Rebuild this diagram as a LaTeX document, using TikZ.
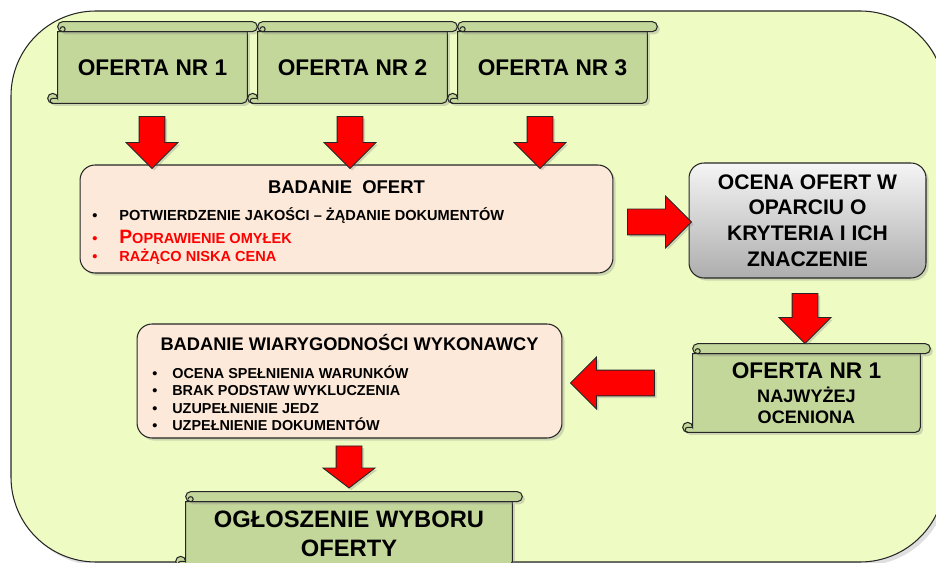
\documentclass[tikz,border=0pt]{standalone}
\usepackage{fontspec}
\setmainfont{Liberation Sans}
\usetikzlibrary{shapes.arrows, shadows, calc, positioning}

\definecolor{bgyellow}{RGB}{238,252,196}
\definecolor{scrollgreen}{RGB}{196,215,155}
\definecolor{boxpink}{RGB}{253,233,217}
\definecolor{darkline}{RGB}{38,38,38}

\newdimen\rollr \rollr=0.1cm
\newcommand{\itembullet}[1]{\makebox[#1][l]{\textbullet}}
\newcommand{\smallline}{\fontsize{10.3}{12.5}\selectfont}

\tikzset{%
  backdrop/.style = {draw=darkline, fill=bgyellow, rounded corners=1.7cm, line width=0.6pt,
                     drop shadow={shadow xshift=2pt, shadow yshift=-2pt, opacity=0.25}},
  scroll/.style = {inner sep=0pt, align=center, font=\bfseries\fontsize{12.9}{15}\selectfont},
  scrollpaper/.style = {draw=darkline, fill=scrollgreen, line width=0.6pt,
                        drop shadow={shadow xshift=1.5pt, shadow yshift=-1.5pt, opacity=0.3}},
  scrollcurl/.style = {draw=darkline, line width=0.6pt},
  infobox/.style = {draw=darkline, fill=boxpink, rounded corners=0.3cm, line width=0.6pt,
                    drop shadow={shadow xshift=1.5pt, shadow yshift=-1.5pt, opacity=0.3}},
  gradbox/.style = {draw=darkline, top color=black!4, bottom color=black!32, rounded corners=0.3cm,
                    line width=0.6pt, align=center, font=\bfseries\fontsize{12}{14.6}\selectfont,
                    drop shadow={shadow xshift=1.5pt, shadow yshift=-1.5pt, opacity=0.3}},
  redarrow/.style = {single arrow, draw=black!85, fill=red, line width=0.5pt, inner xsep=0pt,
                     inner ysep=0.25cm, single arrow head extend=0.26cm, single arrow tip angle=90,
                     drop shadow={shadow xshift=1.2pt, shadow yshift=-1.2pt, opacity=0.3}},
  boxtitle/.style = {inner sep=0pt, font=\bfseries\fontsize{10.5}{12}\selectfont},
  itemlist/.style = {inner sep=0pt, align=left, font=\bfseries\fontsize{8.3}{10}\selectfont}
}

% scroll outline drawn behind a node
\newcommand{\scrollframe}[1]{%
  \begin{pgfonlayer}{background}
    \draw[scrollpaper] let \p1 = (#1.north west), \p2 = (#1.south east) in
      (\x1,\y1) -- (\x1,\y2+\rollr) arc[start angle=0, end angle=270, radius=\rollr]
      -- (\x2-\rollr,\y2) arc[start angle=270, end angle=360, radius=\rollr]
      -- (\x2,\y1) -- cycle;
    \draw[scrollpaper] let \p1 = (#1.north west), \p2 = (#1.south east) in
      (\x1+\rollr,\y1) -- (\x2+\rollr,\y1) arc[start angle=-90, end angle=90, radius=\rollr]
      -- (\x1+\rollr,\y1+2*\rollr) arc[start angle=90, end angle=270, radius=\rollr] -- cycle;
    \draw[scrollcurl] let \p1 = (#1.north west), \p2 = (#1.south east) in
      (\x1+\rollr,\y1) arc[start angle=-90, end angle=180, radius=0.5*\rollr]
      (\x1,\y2+\rollr) -- (\x1-\rollr,\y2+\rollr) arc[start angle=90, end angle=270, radius=0.5*\rollr];
  \end{pgfonlayer}}

\begin{document}
\begin{tikzpicture}[x=0.02cm, y=-0.02cm]
    \pgfdeclarelayer{backdrop}
    \pgfdeclarelayer{background}
    \pgfsetlayers{backdrop,background,main}

    \useasboundingbox (0,0) rectangle (936,563);
    \begin{pgfonlayer}{backdrop}
      \draw[backdrop] (11,11) rectangle (945,562);
    \end{pgfonlayer}

    % offers
    \node (of1)  [scroll, minimum width=3.78cm, minimum height=1.42cm] at (152.5,67.5) {OFERTA NR 1};
    \node (of2)  [scroll, minimum width=3.78cm, minimum height=1.42cm] at (352.5,67.5) {OFERTA NR 2};
    \node (of3)  [scroll, minimum width=3.78cm, minimum height=1.42cm] at (552.5,67.5) {OFERTA NR 3};
    \scrollframe{of1}
    \scrollframe{of2}
    \scrollframe{of3}

    % examination of offers
    \node (badanie) [infobox, minimum width=10.66cm, minimum height=2.16cm] at (346.5,219) {};
    \node (badtitle) [boxtitle] at (346.5,187) {BADANIE~~OFERT};
    \node (badlist) [itemlist, anchor=west] at (92,236)
      {\itembullet{0.54cm}POTWIERDZENIE JAKOŚCI – ŻĄDANIE DOKUMENTÓW\\[3pt]
       \textcolor{red}{\itembullet{0.54cm}{\fontsize{11}{12}\selectfont P}OPRAWIENIE OMYŁEK}\\
       \textcolor{red}{\itembullet{0.54cm}RAŻĄCO NISKA CENA}};

    \node (ocena) [gradbox, minimum width=4.74cm, minimum height=2.3cm] at (807.5,220.5)
      {OCENA OFERT W\\OPARCIU O\\KRYTERIA I ICH\\ZNACZENIE};

    % best offer
    \node (best) [scroll, minimum width=4.54cm, minimum height=1.56cm] at (806.5,393)
      {OFERTA NR 1\\[-1.5pt] \smallline NAJWYŻEJ\\[-3pt] \smallline OCENIONA};
    \scrollframe{best}

    % contractor check
    \node (wiar) [infobox, minimum width=8.5cm, minimum height=2.28cm] at (349.5,381) {};
    \node (wiartitle) [boxtitle, font=\bfseries\fontsize{10.4}{12}\selectfont] at (349.5,342)
      {BADANIE WIARYGODNOŚCI WYKONAWCY};
    \node (wiarlist) [itemlist, anchor=west, font=\bfseries\fontsize{8.2}{9.9}\selectfont] at (152,398)
      {\itembullet{0.4cm}OCENA SPEŁNIENIA WARUNKÓW\\
       \itembullet{0.4cm}BRAK PODSTAW WYKLUCZENIA\\
       \itembullet{0.4cm}UZUPEŁNIENIE JEDZ\\
       \itembullet{0.4cm}UZPEŁNIENIE DOKUMENTÓW};

    % announcement
    \node (wybor) [scroll, minimum width=6.52cm, minimum height=1.28cm,
                   font=\bfseries\fontsize{13.5}{16.5}\selectfont] at (349,534)
      {OGŁOSZENIE WYBORU\\OFERTY};
    \scrollframe{wybor}

    % block arrows
    \node (a1) [redarrow, rotate=-90, minimum height=1.04cm] at (152,136) {};
    \node (a2) [redarrow, rotate=-90, minimum height=1.04cm] at (350,136) {};
    \node (a3) [redarrow, rotate=-90, minimum height=1.04cm] at (540,136) {};
    \node (a4) [redarrow, minimum height=1.28cm] at (653,222) {};
    \node (a5) [redarrow, rotate=-90, minimum height=1.0cm] at (805,312) {};
    \node (a6) [redarrow, rotate=180, minimum height=1.68cm] at (619,383) {};
    \node (a7) [redarrow, rotate=-90, minimum height=0.84cm, single arrow tip angle=105] at (349,462) {};

  \end{tikzpicture}
\end{document}
